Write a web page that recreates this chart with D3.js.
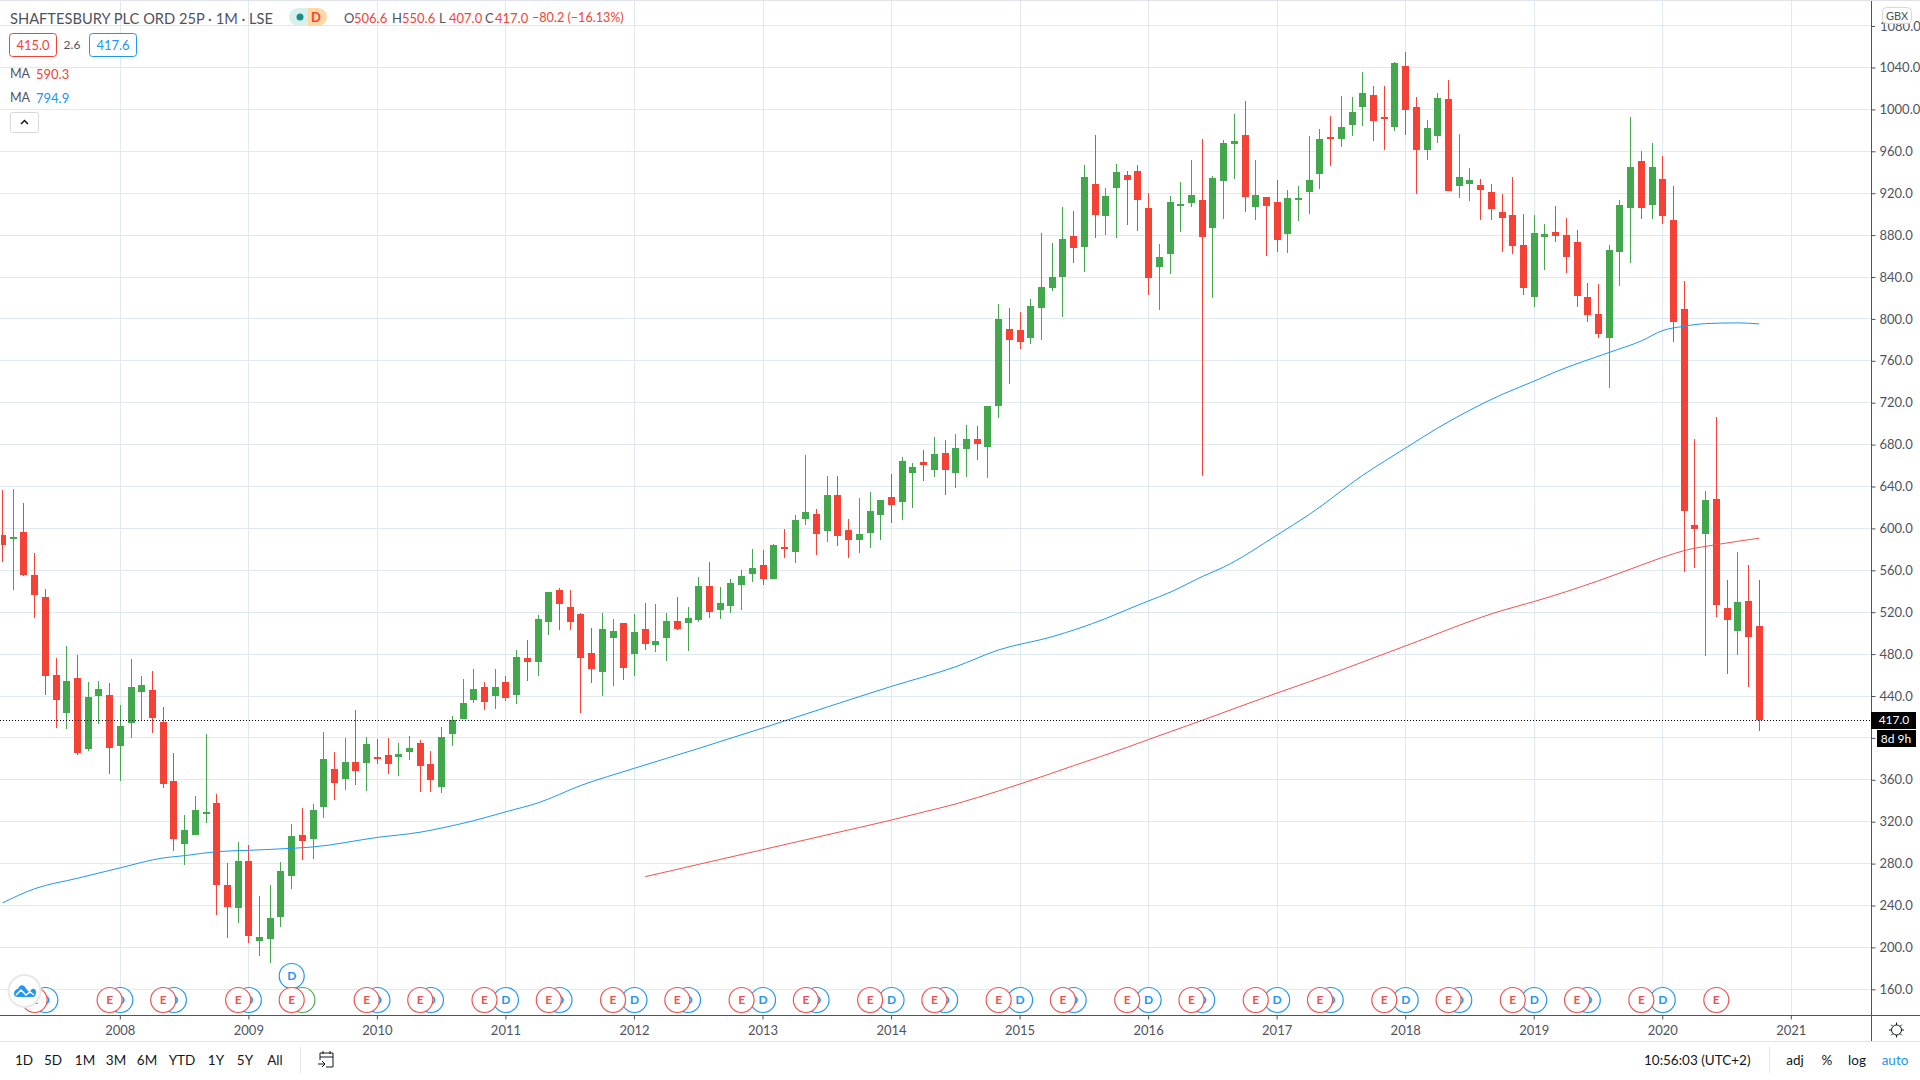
<!DOCTYPE html>
<html>
<head>
<meta charset="utf-8">
<title>Shaftesbury</title>
<script src="https://d3js.org/d3.v7.min.js"></script>
<style>
  html, body { margin: 0; padding: 0; background: #fff; overflow: hidden; }
  svg { display: block; font-family: Lato, "Noto Sans", sans-serif; }
  .candle { shape-rendering: crispEdges; }
</style>
</head>
<body>
<svg id="chart" width="1920" height="1080"></svg>
<script>
// monthly candles, Feb 2007 to Oct 2020
var opens = [593.3,589.5,596.2,555.2,534.3,460,423.8,457.1,389.5,440,441,392.4,414.3,443.8,445.7,415.2,359,299,307.6,327.6,338,260,238,282.9,205.7,207.6,228.6,268.6,307.6,303.8,334.3,370.5,361,377.1,376.2,382,383.8,382,386.7,395.2,375.2,353.3,403.8,418,436.2,448.9,440.3,453.7,441.3,476.5,472.7,510.8,541.3,525.1,518.4,481.3,463.2,495.6,509.8,480.3,504.1,488.9,495.6,511.7,509.8,512.7,545.1,522.2,526,546,556.5,565.1,551.7,582.2,577.5,608.9,613.7,597.5,631.7,598.4,588.9,595.6,612.7,629.8,625.1,652.7,663.2,655.6,671.7,652.7,675.6,685.1,677.5,716.5,790.8,789.8,781.3,810.8,829.8,840.3,879.4,868.9,928.9,898.4,925.1,937.5,941.3,906,849.8,862.2,907.9,910.8,913.7,887,931.7,967,975.6,907,916.5,911.7,881.3,913.7,921.3,938.4,973.7,971.7,985.1,1002.2,1013.7,992.7,983.2,1041.3,1002.2,961.3,974.6,1009.8,927,928.9,927.9,921.3,902.2,899.4,870.8,821.3,878.4,883.2,880.3,873.7,821.3,805.1,781.3,864.1,906,950.8,908.9,933.7,894.6,809.8,603.6,595,628.4,524.4,502.4,531,506.6];
var highs = [637,638,623.8,576.2,541.9,476.2,487.6,479,453.3,454.3,452.4,431.4,475.2,459,463.8,429.5,385.7,326.7,344.8,403.8,346.7,281,301,298,249.5,260,281.9,318,333,337,405.7,386.7,400,426.7,401,399,400,395.2,401.9,398,387.6,410.5,420.9,456.2,465.7,453.7,466,459.4,484,493.7,517.5,539.4,543.2,541.3,519.4,505.1,519.4,513.7,509.8,518.4,528.9,528,519.4,534.6,525.1,553.7,568,544.1,551.7,560.3,580.3,579.4,585.1,599.4,612.7,669.8,618.4,649.8,649.8,608.9,628.9,634.6,627,651.7,668,662.2,674.6,687,684.1,689.8,698.4,697.5,716.5,814.6,810.8,807,819.4,882.2,872.7,907,903.2,947,975.6,925.1,948,941.3,947,920.3,871.7,917.5,930.8,951.7,971.7,936.5,970.8,995.6,1008,951.7,916.5,932.7,923.2,927,974.6,981.3,993.7,1012.7,1011.7,1035.6,1022.2,1022.2,1045.1,1054.6,1011.7,989.8,1015.6,1027.9,976.5,944.1,933.7,928.9,919.4,935.6,900.3,899.4,890.8,907.9,896.5,885.1,834.6,833.7,870.8,913.7,992.7,960.3,967.9,955.6,927,836.5,685.7,636.1,706.7,551.1,577.8,565.4,550.6];
var lows = [567.6,541,554.3,514.3,441,409.5,408.6,383.8,387.6,413.3,365.7,359,400,417,404.8,352.4,292.4,279,307.6,319,231.4,208.6,223,203.8,191.4,184.8,219,256.2,283.8,284.8,323.8,341,350.5,355.2,349.5,375.2,365.7,363.8,379,348.6,348.6,347.6,392.4,418,433.3,427,428,435.6,432.7,454.6,459.4,498.4,503.2,503.2,424.1,452.7,440.3,449.8,455.6,459.4,484.1,482.2,473.7,503.2,483.2,510.8,514.6,513.7,519.4,522.2,548.9,546,551.7,571.7,567,603.2,574.6,587,583.2,571.7,576.5,581.3,588.9,605.1,608,619.4,645.1,648.9,631.7,638.4,648.9,665.1,648,705.1,737.5,770.8,776.5,779.4,827,802.2,853.7,845.1,877.5,880.3,877.5,889.8,884.1,823.2,808.9,843.2,883.2,907,649.8,820.3,895.6,933.7,902.2,894.6,860.3,864.1,863.2,893.7,900.3,924.1,946,964.1,974.6,984.1,969.8,961.3,979.4,975.6,919.4,951.7,967.9,922.2,915.6,912.7,894.6,894.6,864.1,862.2,823.2,811.7,847,873.7,844.1,811.7,797.5,782.2,734,831.7,853.7,895.6,895.6,890.8,777.5,558.7,562.5,478.5,515.8,461.3,479.5,448.9,407];
var closes = [584.1,591.4,555.2,536.2,459,436.2,454.3,385.7,439,446.7,390.5,411.4,448.6,450.5,419,356.2,303.8,312.4,331.4,329.5,260,239,282.9,210.5,209.5,227.6,273.3,306.7,302,331.4,380,357.1,377.1,368.6,394.3,380,375.2,384.8,390.5,373.3,360,401,417,433.3,446.7,434.6,448.9,438.4,477.5,472.7,513.7,539.4,528,510.8,476.5,466,504.1,502.2,467,501.3,489.8,492.7,511.7,504.1,514.6,545.1,520.3,528.9,547.9,554.6,562.2,551.7,584.1,581.3,608,615.6,594.6,631.7,592.7,588.9,594.6,616.5,627,622.2,664.1,658.4,660.3,670.8,655.6,676.5,685.1,680.3,716.5,800.3,780.3,777.5,812.7,830.8,840.3,876.5,868,935.6,899.4,917.5,940.3,932.7,913.7,839.4,859.4,911.7,909.8,918.4,878.4,934.6,967.9,969.8,916.5,918.4,907.9,875.6,915.6,915.6,932.7,971.7,971.7,983.2,997.5,1015.6,988.9,991.7,1044.1,999.4,961.3,982.2,1010.8,922.2,935.6,932.7,923.2,905.1,896.5,869.8,829.8,882.2,881.3,879.4,859.4,822.2,804.1,786,866,908.9,945.1,906,945.1,898.4,797.5,617,599.8,627.5,527.2,512.9,530.1,496.7,417];

// moving averages, values read at these bars
var blueMaBars = [0,3,7,11,15,17,20,23,27,29,35,39,41,44,47,50,54,59,65,71,77,83,89,93,98,103,105,107,109,112,114,119,122,127,131,134,140,143,145,150,153,155,157,159,162,164];
var blueMaValues = [242.5,256,266,276,285.4,287.6,291.4,292.7,294.6,295.9,305,310,314,321,329.5,338,354.6,371,390,409.5,429.5,449.2,468,484,496.6,514,522.5,530.8,539,554,563,593.7,613.3,650.8,676.8,695.9,727.9,740.6,749.5,768,779,788.9,793,795.5,796.2,795.2];
var redMaBars = [60,65,70,75,80,83,86,89,91,95,100,105,107,112,119,122,131,140,143,149,153,155,157,160,164];
var redMaValues = [267.5,279.3,291,302.8,314.5,321.6,329.3,337,343,356,373.5,391,398.5,416.8,442.9,453.6,487.9,521.6,530.2,550,565,572.4,578.8,584.5,590.6];

var priceTicks = [160,200,240,280,320,360,400,440,480,520,560,600,640,680,720,760,800,840,880,920,960,1000,1040,1080];
var yearBars = [11,23,35,47,59,71,83,95,107,119,131,143,155,167];
var yearLabels = ["2008","2009","2010","2011","2012","2013","2014","2015","2016","2017","2018","2019","2020","2021"];

// event markers on the bottom of the chart
var earningsBars = [3,10,15,22,27,34,39,45,51,57,63,69,75,81,87,93,99,105,111,117,123,129,135,141,147,153,160];
var dividendBars = [4,11,16,23,35,40,47,52,59,64,71,76,83,88,95,100,107,112,119,124,131,136,143,148,155];
var raisedDividendBars = [27];
var splitBars = [28];
var rangeButtons = ["1D","5D","1M","3M","6M","YTD","1Y","5Y","All"];
var rangeCenters = [24,53,85,116,147,182,216,245,275];

var lastClose = 417;
var gridColor = "#dfe9f1";
var textColor = "#50535e";
var upColor = "#43a84d";
var downColor = "#f44336";
var blueColor = "#2196f3";

var svg = d3.select("#chart");
var plotRight = 1871;
var axisY = 1015;

var x = d3.scaleLinear().domain([0,167]).range([2.5,1791.3]);
var y = d3.scaleLinear().domain([160,1040]).range([989.3,67.5]);

function label(text, px, py, color, size, anchor, weight) {
  return svg.append("text")
    .attr("x",px).attr("y",py)
    .attr("dy","0.35em")
    .attr("fill",color)
    .attr("font-size",size)
    .attr("text-anchor",anchor || "start")
    .attr("font-weight",weight || "normal")
    .text(text);
}

function drawGrid() {
  var grid = svg.append("g");
  grid.selectAll("line.h").data(priceTicks).join("line")
    .attr("class","h")
    .attr("x1",0).attr("x2",plotRight)
    .attr("y1",d => Math.floor(y(d))+0.5).attr("y2",d => Math.floor(y(d))+0.5)
    .attr("stroke",gridColor);
  grid.selectAll("line.v").data(yearBars).join("line")
    .attr("class","v")
    .attr("y1",0).attr("y2",axisY)
    .attr("x1",d => Math.floor(x(d))+0.5).attr("x2",d => Math.floor(x(d))+0.5)
    .attr("stroke",gridColor);
}

function drawCandles() {
  var clip = svg.append("clipPath").attr("id","plotClip");
  clip.append("rect").attr("x",1).attr("y",0).attr("width",plotRight).attr("height",axisY);
  var candles = svg.append("g").attr("clip-path","url(#plotClip)")
    .selectAll("g").data(opens).join("g").attr("class","candle");
  var color = (d,i) => closes[i] >= d ? upColor : downColor;
  candles.append("rect")
    .attr("x",(d,i) => Math.floor(x(i)))
    .attr("width",1)
    .attr("y",(d,i) => Math.round(y(highs[i])))
    .attr("height",(d,i) => Math.round(y(lows[i]))-Math.round(y(highs[i])))
    .attr("fill",color);
  candles.append("rect")
    .attr("x",(d,i) => Math.floor(x(i))-3)
    .attr("width",7)
    .attr("y",(d,i) => Math.round(y(Math.max(d,closes[i]))))
    .attr("height",(d,i) => Math.max(2,Math.round(y(Math.min(d,closes[i])))-Math.round(y(Math.max(d,closes[i])))))
    .attr("fill",color);
}

function drawAverages() {
  var line = d3.line().curve(d3.curveMonotoneX);
  svg.append("path")
    .attr("d",line(blueMaBars.map((b,i) => [x(b),y(blueMaValues[i])])))
    .attr("fill","none").attr("stroke",blueColor).attr("stroke-width",1);
  svg.append("path")
    .attr("d",line(redMaBars.map((b,i) => [x(b),y(redMaValues[i])])))
    .attr("fill","none").attr("stroke","#f0544f").attr("stroke-width",1);
  svg.append("line")
    .attr("x1",0).attr("x2",plotRight)
    .attr("y1",Math.floor(y(lastClose))+0.5).attr("y2",Math.floor(y(lastClose))+0.5)
    .attr("stroke","#000").attr("stroke-dasharray","1,2");
}

function drawMarkers(bars, cy, color, letter) {
  var group = svg.append("g").selectAll("g").data(bars).join("g")
    .attr("transform",d => `translate(${x(d)},${cy})`);
  group.append("circle").attr("r",12.5).attr("fill","#fff").attr("stroke",color).attr("stroke-width",1.2);
  group.append("text")
    .attr("text-anchor","middle").attr("dy","0.36em")
    .attr("font-size",12).attr("font-weight","bold")
    .attr("fill",color).text(letter);
}

function drawAxes() {
  var priceAxis = d3.axisRight(y).tickValues(priceTicks.filter(d => d < 1080)).tickFormat(d3.format(".1f")).tickSize(4).tickPadding(4).offset(0.5);
  var priceGroup = svg.append("g").attr("transform",`translate(${plotRight+0.5},0)`).call(priceAxis);
  priceGroup.select(".domain").remove();
  priceGroup.selectAll("line").attr("stroke",textColor);
  priceGroup.selectAll("text").attr("fill",textColor).attr("font-size",13).attr("font-family","Lato, sans-serif");

  var yearAxis = d3.axisBottom(x).tickValues(yearBars).tickFormat((d,i) => yearLabels[i]).tickSize(4).tickPadding(6);
  var yearGroup = svg.append("g").attr("transform",`translate(-0.5,${axisY+0.5})`).call(yearAxis);
  yearGroup.select(".domain").remove();
  yearGroup.selectAll("line").attr("stroke",textColor);
  yearGroup.selectAll("text").attr("fill",textColor).attr("font-size",13).attr("font-family","Lato, sans-serif");

  svg.append("line").attr("x1",0).attr("x2",1920).attr("y1",axisY+0.5).attr("y2",axisY+0.5).attr("stroke",textColor);
  svg.append("line").attr("x1",plotRight+0.5).attr("x2",plotRight+0.5).attr("y1",0).attr("y2",1041).attr("stroke",textColor);
  svg.append("line").attr("x1",0).attr("x2",1920).attr("y1",1041.5).attr("y2",1041.5).attr("stroke","#e0e3eb");
  svg.append("line").attr("x1",0).attr("x2",1920).attr("y1",0.5).attr("y2",0.5).attr("stroke","#e0e3eb");

  // last price tags
  var tagY = Math.floor(y(lastClose));
  svg.append("rect").attr("x",plotRight).attr("y",tagY-8).attr("width",45).attr("height",17).attr("fill","#000");
  label("417.0",1894,tagY,"#fff",12,"middle");
  svg.append("rect").attr("x",1877).attr("y",730).attr("width",39).attr("height",17).attr("fill","#000");
  label("8d 9h",1896,739,"#fff",12,"middle");

  // the price tick above the currency box is cut off by it in the picture
  label("1080.0",1880,26,textColor,13);
  svg.append("line").attr("x1",plotRight).attr("x2",plotRight+4).attr("y1",26.5).attr("y2",26.5).attr("stroke",textColor);
  svg.append("rect").attr("x",1882.5).attr("y",7.5).attr("width",29).attr("height",16).attr("rx",4)
    .attr("fill","#fff").attr("stroke","#d6d8de");
  label("GBX",1897,16,textColor,11,"middle");
}

function drawHeader() {
  label("SHAFTESBURY PLC ORD 25P · 1M · LSE",10,18,textColor,16)
    .attr("textLength",263).attr("lengthAdjust","spacingAndGlyphs");

  svg.append("path").attr("d","M308,8H298a9,9 0 0 0 0,18H308Z").attr("fill","#d9efec");
  svg.append("path").attr("d","M308,8H318a9,9 0 0 1 0,18H308Z").attr("fill","#ffd8a6");
  svg.append("circle").attr("cx",300).attr("cy",17).attr("r",3.5).attr("fill","#1e8e84");
  label("D",316,17,downColor,13,"middle","bold");

  [["O","506.6",344],["H","550.6",392],["L","407.0",439],["C","417.0",485]].forEach(([k,v,px]) => {
    label(k,px,18,textColor,13);
    label(v,px+10,18,downColor,13);
  });
  label("−80.2 (−16.13%)",532,18,downColor,12.6);

  svg.append("rect").attr("x",9.5).attr("y",33.5).attr("width",47).attr("height",23).attr("rx",3).attr("fill","#fff").attr("stroke",downColor);
  label("415.0",33,45,downColor,13,"middle");
  label("2.6",72,45,textColor,12,"middle");
  svg.append("rect").attr("x",89.5).attr("y",33.5).attr("width",47).attr("height",23).attr("rx",3).attr("fill","#fff").attr("stroke",blueColor);
  label("417.6",113,45,blueColor,13,"middle");

  label("MA",10,74,textColor,12.5);
  label("590.3",36,74,downColor,13);
  label("MA",10,98,textColor,12.5);
  label("794.9",36,98,blueColor,13);

  svg.append("rect").attr("x",10.5).attr("y",112.5).attr("width",28).attr("height",20).attr("rx",2).attr("fill","#fff").attr("stroke","#d6d8de");
  svg.append("path").attr("d","M21,124L24.5,120.5L28,124").attr("fill","none").attr("stroke","#131722").attr("stroke-width",1.5);
}

function drawLogo() {
  svg.append("circle").attr("cx",24.5).attr("cy",991).attr("r",16).attr("fill","#fff").attr("stroke","#e8e8e8").attr("stroke-width",2);
  svg.append("path")
    .attr("d","M14,994 C14,990 17,989 18,989 C19,985 23,984 25,987 L28,991 C29,992 30,992 31,990 C32,988 36,988 36,992 C36,995 35,997 32,997 L18,997 C16,997 14,996 14,994Z")
    .attr("fill",blueColor);
  svg.append("path").attr("d","M16,995L21,990L26,995L30,992L34,995").attr("fill","none").attr("stroke","#fff").attr("stroke-width",1.5);
}

function drawFooter() {
  rangeButtons.forEach((name,i) => label(name,rangeCenters[i],1060,"#131722",13.5,"middle"));
  svg.append("line").attr("x1",300.5).attr("x2",300.5).attr("y1",1047).attr("y2",1073).attr("stroke","#e0e3eb");

  // go to date icon
  svg.append("path")
    .attr("d","M320,1060V1053H333V1067H326M320,1057H333M323,1051V1054M330,1051V1054M318,1064H325M322,1061L325,1064L322,1067")
    .attr("fill","none").attr("stroke","#131722");

  label("10:56:03 (UTC+2)",1644,1060,"#131722",13.5);
  svg.append("line").attr("x1",1769.5).attr("x2",1769.5).attr("y1",1047).attr("y2",1073).attr("stroke","#e0e3eb");
  label("adj",1795,1060,"#131722",13.5,"middle");
  label("%",1827,1060,"#131722",13.5,"middle");
  label("log",1857,1060,"#131722",13.5,"middle");
  label("auto",1895,1060,blueColor,13.5,"middle");

  // settings gear
  svg.append("circle").attr("cx",1896.5).attr("cy",1030).attr("r",5).attr("fill","#fff").attr("stroke","#131722");
  d3.range(0,360,45).forEach(a => {
    var r = a*Math.PI/180;
    svg.append("line")
      .attr("x1",1896.5+5*Math.cos(r)).attr("y1",1030+5*Math.sin(r))
      .attr("x2",1896.5+7.5*Math.cos(r)).attr("y2",1030+7.5*Math.sin(r))
      .attr("stroke","#131722");
  });
}

drawGrid();
drawCandles();
drawAverages();
drawMarkers(dividendBars,1000,blueColor,"D");
drawMarkers(splitBars,1000,"#4caf50","");
drawMarkers(raisedDividendBars,976,blueColor,"D");
drawMarkers(earningsBars,1000,"#ef5350","E");
drawAxes();
drawHeader();
drawLogo();
drawFooter();
</script>
</body>
</html>
